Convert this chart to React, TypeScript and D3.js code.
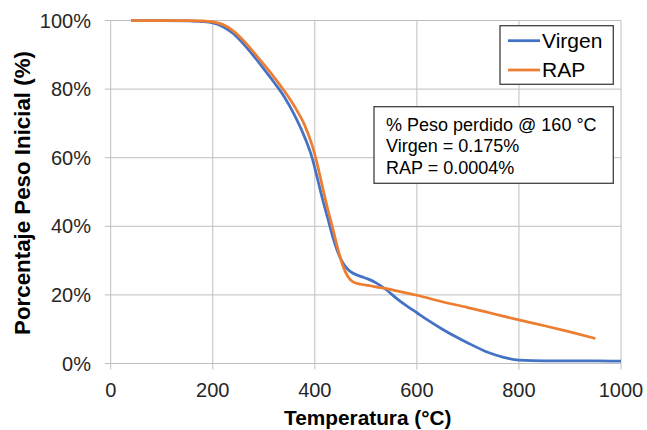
import React from "react";
import * as d3 from "d3";

// temperature (°C) / weight remaining (%)
const virgenTemp = [40, 100, 150, 180, 200, 220, 240, 260, 280, 300, 320, 340, 360, 380, 395, 405, 415, 425, 435, 445, 455, 465, 475, 490, 505, 520, 540, 560, 580, 600, 620, 650, 700, 740, 770, 800, 850, 900, 950, 1000];
const virgenPeso = [100, 100, 99.9, 99.7, 99.3, 98.2, 96.2, 93.2, 89.7, 85.9, 82, 77.8, 72.5, 66, 59.8, 54, 48, 42.5, 37, 32.5, 29.3, 27.4, 26.3, 25.4, 24.6, 23.5, 21.5, 19, 16.8, 14.8, 12.8, 10, 6, 3.2, 1.8, 1.0, 0.8, 0.8, 0.8, 0.7];

const rapTemp = [40, 100, 150, 180, 200, 220, 240, 260, 280, 300, 320, 340, 360, 380, 395, 405, 415, 425, 435, 445, 455, 465, 475, 490, 510, 530, 560, 600, 650, 700, 750, 800, 850, 900, 950];
const rapPeso = [100, 100, 100, 99.9, 99.6, 98.8, 97, 94.2, 90.8, 87.2, 83.5, 79.5, 75, 69.5, 63.5, 58, 51.5, 45.2, 39.5, 33.5, 28.5, 25.3, 23.8, 23.1, 22.6, 22.1, 21.2, 19.9, 18, 16.3, 14.5, 12.7, 11, 9.2, 7.3];

const xTicks = [0, 200, 400, 600, 800, 1000];
const yTicks = [0, 20, 40, 60, 80, 100];

const seriesNames = ["Virgen", "RAP"];
const seriesColors = ["#4472C4", "#ED7D31"];
const noteLines = ["% Peso perdido @ 160 °C", "Virgen = 0.175%", "RAP = 0.0004%"];

const font = "'Liberation Sans', Arial, sans-serif";

export default function App() {
  const left = 110.7, right = 621, top = 20.5, bottom = 363.5;
  const x = d3.scaleLinear().domain([0, 1000]).range([left, right]);
  const y = d3.scaleLinear().domain([0, 100]).range([bottom, top]);

  const line = d3
    .line<[number, number]>()
    .x(d => x(d[0]))
    .y(d => y(d[1]))
    .curve(d3.curveMonotoneX);

  const series = [
    virgenTemp.map((t, i) => [t, virgenPeso[i]] as [number, number]),
    rapTemp.map((t, i) => [t, rapPeso[i]] as [number, number])
  ];

  const grid = "#bfbfbf";

  return (
    <svg width={647} height={430} style={{ position: "absolute", left: 0, top: 0, background: "#fff" }} fontFamily={font}>
      {yTicks.map(t => (
        <g key={"y" + t}>
          <line x1={left - 6} x2={right} y1={y(t)} y2={y(t)} stroke={grid} strokeWidth={1} />
          <text x={91} y={y(t)} dy="0.35em" textAnchor="end" fontSize={20} fill="#262626">
            {t + "%"}
          </text>
        </g>
      ))}
      {xTicks.map(t => (
        <g key={"x" + t}>
          <line x1={x(t)} x2={x(t)} y1={top} y2={bottom + 6} stroke={grid} strokeWidth={1} />
          <text x={x(t)} y={396.5} textAnchor="middle" fontSize={20} fill="#262626">
            {t}
          </text>
        </g>
      ))}

      {series.map((s, i) => (
        <path key={seriesNames[i]} d={line(s) || ""} fill="none" stroke={seriesColors[i]} strokeWidth={2.75} strokeLinejoin="round" />
      ))}

      {/* legend */}
      <rect x={500} y={25.7} width={113.3} height={58.6} fill="#fff" stroke="#404040" strokeWidth={1.3} />
      {seriesNames.map((n, i) => (
        <g key={"leg" + n}>
          <line x1={508} x2={540} y1={40.7 + i * 29.3} y2={40.7 + i * 29.3} stroke={seriesColors[i]} strokeWidth={2.75} />
          <text x={542} y={48.3 + i * 29} fontSize={21} fill="#000">
            {n}
          </text>
        </g>
      ))}

      {/* annotation */}
      <rect x={374} y={106.7} width={239.3} height={76.6} fill="#fff" stroke="#404040" strokeWidth={1.3} />
      {noteLines.map((l, i) => (
        <text key={"note" + i} x={386} y={130.5 + i * 21.7} fontSize={18} fill="#000">
          {l}
        </text>
      ))}

      <text x={367.8} y={425} textAnchor="middle" fontSize={20.8} fontWeight="bold" fill="#000">
        Temperatura (°C)
      </text>
      <text transform="translate(30,193) rotate(-90)" textAnchor="middle" fontSize={22.3} fontWeight="bold" fill="#000">
        Porcentaje Peso Inicial (%)
      </text>
    </svg>
  );
}
